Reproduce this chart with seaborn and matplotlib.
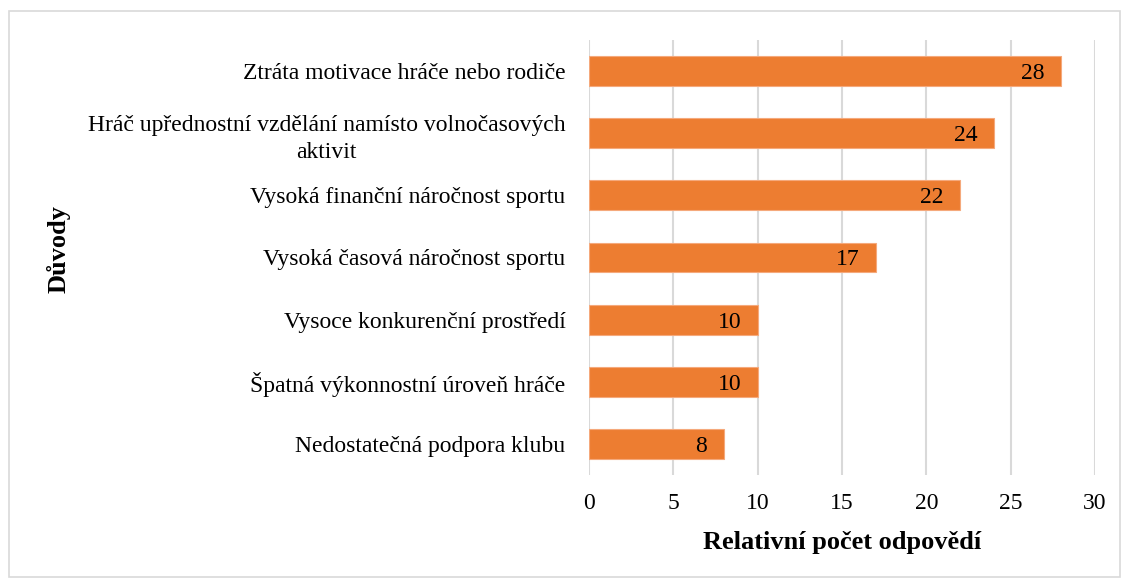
import matplotlib
matplotlib.use("Agg")
import matplotlib.pyplot as plt
import seaborn as sns
import pandas as pd
from matplotlib.patches import Rectangle

reasons = [
    "Ztráta motivace hráče nebo rodiče",
    "Hráč upřednostní vzdělání namísto volnočasových\naktivit",
    "Vysoká finanční náročnost sportu",
    "Vysoká časová náročnost sportu",
    "Vysoce konkurenční prostředí",
    "Špatná výkonnostní úroveň hráče",
    "Nedostatečná podpora klubu",
]
counts = [28, 24, 22, 17, 10, 10, 8]
x_ticks = [0, 5, 10, 15, 20, 25, 30]

sns.set_theme(style="white")
plt.rcParams["font.family"] = ["Liberation Serif", "DejaVu Serif"]
plt.rcParams["text.color"] = "black"
plt.rcParams["axes.labelcolor"] = "black"
plt.rcParams["xtick.color"] = "black"
plt.rcParams["ytick.color"] = "black"

df = pd.DataFrame({"Důvody": reasons, "Počet": counts})

fig = plt.figure(figsize=(11.22, 5.78), dpi=100)
ax = fig.add_axes([0.525, 0.178, 0.451, 0.753])

sns.barplot(data=df, y="Důvody", x="Počet", orient="h", color="#ED7D31",
            saturation=1, width=0.48, edgecolor="#F5A97C", linewidth=0.8,
            ax=ax, zorder=3)

ax.set_xlim(0, 30)
ax.set_ylim(6.5, -0.5)
ax.set_xticks(x_ticks)
ax.set_xticklabels([str(t) for t in x_ticks], fontsize=17)
ax.tick_params(axis="x", length=0, pad=13)
ax.tick_params(axis="y", length=0, pad=17, labelsize=17)
for lab in ax.get_yticklabels():
    lab.set_multialignment("center")
    lab.set_linespacing(1.4)

ax.grid(axis="x", color="#D9D9D9", linewidth=1.5, zorder=0)
ax.grid(axis="y", visible=False)
for s in ax.spines.values():
    s.set_visible(False)

for i, v in enumerate(counts):
    ax.annotate(str(v), xy=(v, i), xytext=(-12, 0), textcoords="offset points",
                ha="right", va="center_baseline", fontsize=17, color="black",
                zorder=4)

ax.set_xlabel("Relativní počet odpovědí", fontsize=19, fontweight="bold", labelpad=12)
ax.set_ylabel("Důvody", fontsize=19, fontweight="bold")
ax.yaxis.set_label_coords(-1.025, 0.52)

fig.patches.append(Rectangle((9 / 1122, 1 / 578), 1111 / 1122, 566 / 578,
                             transform=fig.transFigure, fill=False,
                             edgecolor="#D9D9D9", linewidth=1.2))

fig.savefig("out.png", dpi=100, facecolor="white")
